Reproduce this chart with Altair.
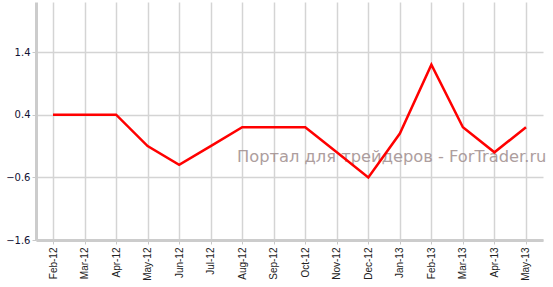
import altair as alt
import pandas as pd

months = ["Feb-12", "Mar-12", "Apr-12", "May-12", "Jun-12", "Jul-12", "Aug-12", "Sep-12",
          "Oct-12", "Nov-12", "Dec-12", "Jan-13", "Feb-13", "Mar-13", "Apr-13", "May-13"]
values = [0.4, 0.4, 0.4, -0.1, -0.4, -0.1, 0.2, 0.2, 0.2, -0.2, -0.6, 0.1, 1.2, 0.2, -0.2, 0.2]
y_ticks = [-1.6, -0.6, 0.4, 1.4]
watermark = "Портал для трейдеров - ForTrader.ru"

df = pd.DataFrame({"month": months, "value": values})

x = alt.X("month:N", sort=months, title=None,
          scale=alt.Scale(type="point", padding=0.54),
          axis=alt.Axis(labelAngle=-90, labelFont="Liberation Sans", labelFontSize=10,
                        labelColor="#222222", labelAlign="right", labelBaseline="middle",
                        labelPadding=3, tickSize=4, tickColor="#c8c8c8", tickWidth=1,
                        domainColor="#cccccc", domainWidth=3,
                        grid=True, gridColor="#d4d4d4", gridWidth=1.5))
y = alt.Y("value:Q", title=None,
          scale=alt.Scale(domain=[-1.6, 2.2], nice=False, zero=False),
          axis=alt.Axis(values=y_ticks, format=".1f", labelFont="DejaVu Sans", labelFontSize=10,
                        labelColor="#111133", tickSize=4, tickColor="#c8c8c8",
                        labelPadding=2, domainColor="#cccccc", domainWidth=3,
                        grid=True, gridColor="#d4d4d4", gridWidth=1.5))

line = alt.Chart(df).mark_line(color="#ff0000", strokeWidth=2.5).encode(x=x, y=y)

text = alt.Chart(pd.DataFrame({"t": [watermark]})).mark_text(
    font="DejaVu Sans", fontSize=16.3, color="#a08e8e", opacity=0.85,
    align="left", baseline="alphabetic"
).encode(text="t:N", x=alt.value(201), y=alt.value(160))

chart = alt.layer(text, line).properties(
    width=507, height=238,
    autosize=alt.AutoSizeParams(type="none"),
    padding={"left": 36, "top": 2, "right": 10, "bottom": 47},
    background="white",
).configure_view(stroke=None)

chart.save("out.html", embed_options={"renderer": "svg", "actions": False})
